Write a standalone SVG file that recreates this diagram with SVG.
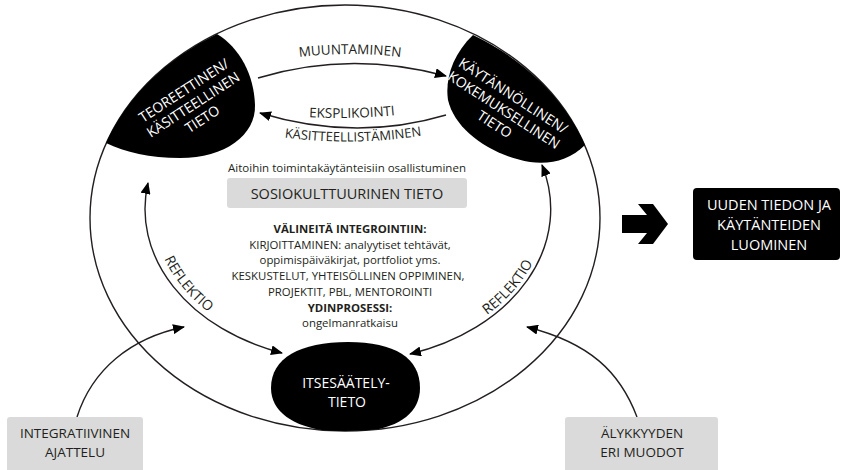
<svg xmlns="http://www.w3.org/2000/svg" width="842" height="470" viewBox="0 0 842 470">
<defs>
<style>
text{font-family:"Open Sans","Liberation Sans",sans-serif;fill:#231f20}
.w{fill:#fff}
.c{text-anchor:middle}
.b{font-weight:bold}
.ln{fill:none;stroke:#231f20;stroke-width:1.4}
.blk{fill:#000}
.gray{fill:#dadada}
.body{font-size:11.4px}
</style>
<marker id="ah" viewBox="0 0 12 10" refX="11" refY="5" markerWidth="12" markerHeight="10" markerUnits="userSpaceOnUse" orient="auto-start-reverse">
<path d="M0,0 L12,5 L0,10 z" fill="#000"/>
</marker>
<clipPath id="outer"><ellipse cx="345" cy="218" rx="255" ry="213"/></clipPath>
<path id="tpMuu" d="M280,60 Q350,48 420,60"/>
<path id="tpEks" d="M290,116 Q352,121 414,113"/>
<path id="tpKas" d="M274,136 Q352,148 432,134"/>
<path id="tpRefL" d="M155,190 A198 148 0 0 0 288,350"/>
<path id="tpRefR" d="M402,352 A198 148 0 0 0 545,195"/>
</defs>

<g id="connectors">
<ellipse class="ln" cx="345" cy="218" rx="255" ry="213"/>
<path class="ln" d="M258,78 Q350,50 446,76" marker-end="url(#ah)"/>
<path class="ln" d="M446,115 Q355,142 260,113" marker-end="url(#ah)"/>
<path class="ln" d="M148,183 A202 152 0 0 0 282,353" marker-start="url(#ah)" marker-end="url(#ah)"/>
<path class="ln" d="M542,165 A202 152 0 0 1 410,354" marker-start="url(#ah)" marker-end="url(#ah)"/>
<path class="ln" d="M77,417 C92,370 130,338 184,327" marker-end="url(#ah)"/>
<path class="ln" d="M637,417 C620,372 590,343 527,327" marker-end="url(#ah)"/>
<polygon class="blk" points="622,215 647,215 638,204 653,204 668,224 653,244 638,244 647,233 622,233"/>
</g>

<g id="labels">
<text font-size="13.5"><textPath href="#tpMuu" startOffset="50%" text-anchor="middle">MUUNTAMINEN</textPath></text>
<text font-size="13.5"><textPath href="#tpEks" startOffset="50%" text-anchor="middle">EKSPLIKOINTI</textPath></text>
<text font-size="13"><textPath href="#tpKas" startOffset="50%" text-anchor="middle">KÄSITTEELLISTÄMINEN</textPath></text>
<text font-size="14"><textPath href="#tpRefL" startOffset="46%" text-anchor="middle">REFLEKTIO</textPath></text>
<text font-size="14"><textPath href="#tpRefR" startOffset="55%" text-anchor="middle">REFLEKTIO</textPath></text>
</g>

<g id="node-teoreettinen">
<path class="blk" d="M106,143 A255 213 0 0 1 217,34 C240,48 254,75 255,105 C256,135 225,158 180,158 C150,158 125,152 106,143 Z"/>
<g transform="translate(192,103) rotate(-33)" font-size="14">
<text class="w c" x="0" y="-10">TEOREETTINEN/</text>
<text class="w c" x="0" y="7">KÄSITTEELLINEN</text>
<text class="w c" x="0" y="24">TIETO</text>
</g>
</g>

<g id="node-kaytannollinen">
<path class="blk" d="M473,35 A255 213 0 0 1 585,145 C570,160 550,165 530,162 C490,155 455,130 448,100 C445,80 452,55 473,35 Z"/>
<g transform="translate(504,110) rotate(33)" font-size="14">
<text class="w c" x="0" y="-12">KÄYTÄNNÖLLINEN/</text>
<text class="w c" x="0" y="5">KOKEMUKSELLINEN</text>
<text class="w c" x="0" y="22">TIETO</text>
</g>
</g>

<g id="node-itsesaately">
<path class="blk" clip-path="url(#outer)" d="M348,342 C395,342 420,358 420,388 C420,415 395,432 348,432 C300,432 271,415 271,388 C271,358 300,342 348,342 Z"/>
<text class="w c" x="346" y="388" font-size="14">ITSESÄÄTELY-</text>
<text class="w c" x="347" y="407" font-size="14">TIETO</text>
</g>

<g id="node-center">
<text class="c" x="347" y="172" font-size="11.5">Aitoihin toimintakäytänteisiin osallistuminen</text>
<rect class="gray" x="227" y="178" width="240" height="30" rx="3"/>
<text class="c" x="347" y="199" font-size="14.5">SOSIOKULTTUURINEN TIETO</text>
<text class="c b body" x="350" y="233">VÄLINEITÄ INTEGROINTIIN:</text>
<text class="c body" x="350" y="248.7">KIRJOITTAMINEN: analyytiset tehtävät,</text>
<text class="c body" x="350" y="264.4">oppimispäiväkirjat, portfoliot yms.</text>
<text class="c body" x="348" y="280.1">KESKUSTELUT, YHTEISÖLLINEN OPPIMINEN,</text>
<text class="c body" x="350" y="295.8">PROJEKTIT, PBL, MENTOROINTI</text>
<text class="c b body" x="350" y="311.5">YDINPROSESSI:</text>
<text class="c body" x="350" y="327.2">ongelmanratkaisu</text>
</g>

<g id="node-uuden">
<rect class="blk" x="693" y="188" width="147" height="72" rx="4"/>
<text class="w c" x="769" y="210" font-size="14.5">UUDEN TIEDON JA</text>
<text class="w c" x="769" y="230" font-size="14.5">KÄYTÄNTEIDEN</text>
<text class="w c" x="769" y="250" font-size="14.5">LUOMINEN</text>
</g>

<g id="node-integratiivinen">
<rect class="gray" x="7" y="417" width="136" height="60" rx="3"/>
<text class="c" x="75" y="438" font-size="13.5">INTEGRATIIVINEN</text>
<text class="c" x="75" y="457" font-size="13.5">AJATTELU</text>
</g>

<g id="node-alykkyyden">
<rect class="gray" x="565" y="417" width="153" height="60" rx="3"/>
<text class="c" x="642" y="438" font-size="13.5">ÄLYKKYYDEN</text>
<text class="c" x="642" y="457" font-size="13.5">ERI MUODOT</text>
</g>
</svg>
